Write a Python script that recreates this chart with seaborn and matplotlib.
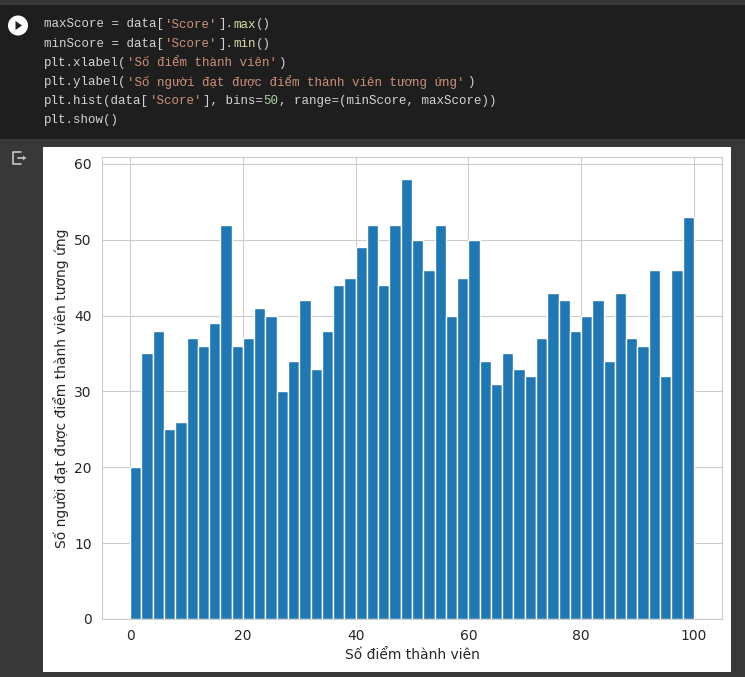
import matplotlib
matplotlib.use("Agg")
import matplotlib.pyplot as plt
import numpy as np
import seaborn as sns
from matplotlib.patches import Circle, Polygon, Rectangle

W, H = 745, 677

counts = [20, 35, 38, 25, 26, 37, 36, 39, 52, 36,
          37, 41, 40, 30, 34, 42, 33, 38, 44, 45,
          49, 52, 44, 52, 58, 50, 46, 52, 40, 45,
          50, 34, 31, 35, 33, 32, 37, 43, 42, 38,
          40, 42, 34, 43, 37, 36, 46, 32, 46, 53]
score_min = 0
score_max = 100
n_bins = 50
x_label = "Số điểm thành viên"
y_label = "Số người đạt được điểm thành viên tương ứng"

PLAIN = "#d4d4d4"
STR = "#ce9178"
FUNC = "#dcdcaa"
NUM = "#b5cea8"

# notebook cell source, split into coloured tokens
code_lines = [
    [("maxScore = data[", PLAIN), ("'Score'", STR), ("].", PLAIN), ("max", FUNC), ("()", PLAIN)],
    [("minScore = data[", PLAIN), ("'Score'", STR), ("].", PLAIN), ("min", FUNC), ("()", PLAIN)],
    [("plt.xlabel(", PLAIN), ("'Số điểm thành viên'", STR), (")", PLAIN)],
    [("plt.ylabel(", PLAIN), ("'Số người đạt được điểm thành viên tương ứng'", STR), (")", PLAIN)],
    [("plt.hist(data[", PLAIN), ("'Score'", STR), ("], bins=", PLAIN), ("50", NUM),
     (", range=(minScore, maxScore))", PLAIN)],
    [("plt.show()", PLAIN)],
]

sns.set_theme(style="whitegrid")
plt.rcParams["font.family"] = ["DejaVu Sans"]

fig = plt.figure(figsize=(W / 100, H / 100), dpi=100, facecolor="#383838")

# page chrome, pixel coordinates with y going down
bg = fig.add_axes([0, 0, 1, 1])
bg.set_xlim(0, W)
bg.set_ylim(H, 0)
bg.axis("off")
bg.add_patch(Rectangle((0, 5), W, 134, color="#1e1e1e", lw=0))
bg.add_patch(Rectangle((43, 147), 688, 525, color="white", lw=0))

bg.add_patch(Circle((18, 25.5), 10, color="white", lw=0))
bg.add_patch(Polygon([(15.5, 21), (15.5, 30), (22, 25.5)], color="#1e1e1e", lw=0))

# output icon
bg.plot([21, 13, 13, 21], [152, 152, 164, 164], color="#c8c8c8", lw=1.2)
bg.plot([18, 25], [158, 158], color="#c8c8c8", lw=1.2)
bg.add_patch(Polygon([(23, 155.5), (23, 160.5), (26, 158)], color="#c8c8c8", lw=0))

char_w = 7.57
for i, tokens in enumerate(code_lines):
    y = 24.5 + i * 19.05
    col = 0
    for txt, color in tokens:
        bg.text(44 + col * char_w, y, txt, color=color,
                family=["Liberation Mono", "DejaVu Sans"],
                fontsize=9.0, va="center", ha="left")
        col += len(txt)

# chart
ax = fig.add_axes([102 / W, 1 - 619 / H, (722 - 102) / W, (619 - 157) / H])
ax.set_facecolor("white")
bin_edges = np.linspace(score_min, score_max, n_bins + 1)
bin_centers = (bin_edges[:-1] + bin_edges[1:]) / 2
sns.histplot(x=bin_centers, weights=counts, bins=n_bins, binrange=(score_min, score_max),
             color="#1f77b4", alpha=1, edgecolor="white", linewidth=1.0, ax=ax)
ax.set_xlabel(x_label, fontsize=10, color=".15", labelpad=3.2)
ax.set_ylabel(y_label, fontsize=10, color=".15", labelpad=3.7)
ax.tick_params(labelsize=10, labelcolor=".15")
ax.tick_params(axis="y", pad=1.5)
ax.tick_params(axis="x", pad=1.5)
ax.set_yticks(range(0, 61, 10))
ax.set_xticks(range(0, 101, 20))
ax.grid(color="#cccccc", linewidth=0.8)
for spine in ax.spines.values():
    spine.set_color("#cccccc")
    spine.set_linewidth(0.8)

fig.savefig("out.png", dpi=100, facecolor=fig.get_facecolor())
